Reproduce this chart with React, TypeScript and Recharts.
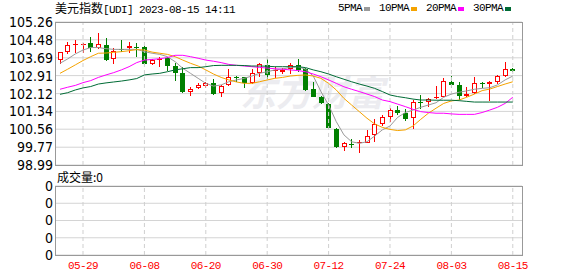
import React from "react";
import {
  ComposedChart,
  Bar,
  Line,
  XAxis,
  YAxis,
  CartesianGrid,
  ReferenceLine,
} from "recharts";

// trading days shown in the window
const dates = [
  "05-24", "05-25", "05-26", "05-29", "05-30", "05-31",
  "06-01", "06-02", "06-05", "06-06", "06-07", "06-08", "06-09", "06-12", "06-13", "06-14",
  "06-15", "06-16", "06-19", "06-20", "06-21", "06-22", "06-23", "06-26", "06-27", "06-28",
  "06-29", "06-30", "07-03", "07-04", "07-05", "07-06", "07-07", "07-10", "07-11", "07-12",
  "07-13", "07-14", "07-17", "07-18", "07-19", "07-20", "07-21", "07-24", "07-25", "07-26",
  "07-27", "07-28", "07-31", "08-01", "08-02", "08-03", "08-04", "08-07", "08-08", "08-09",
  "08-10", "08-11", "08-14", "08-15",
];

const open = [
  103.59, 103.96, 104.27, 104.28, 104.35, 104.11, 104.25, 103.62, 104.08, 104.11,
  104.16, 104.15, 103.40, 103.62, 103.67, 103.35, 103.01, 102.18, 102.35, 102.45,
  102.57, 102.13, 102.50, 102.83, 102.83, 102.57, 103.04, 103.37, 103.11, 103.05,
  103.19, 103.37, 103.19, 102.32, 101.99, 101.66, 100.57, 99.79, 99.91, 99.94,
  99.97, 100.31, 100.79, 101.08, 101.40, 101.26, 101.04, 101.77, 101.75, 101.91,
  101.99, 102.64, 102.50, 102.02, 102.13, 102.60, 102.53, 102.64, 102.91, 103.20,
];
const high = [
  103.95, 104.37, 104.47, 104.35, 104.59, 104.76, 104.54, 104.11, 104.47, 104.40,
  104.35, 104.21, 103.64, 103.74, 103.71, 103.45, 103.30, 102.42, 102.57, 102.64,
  102.75, 102.50, 103.18, 102.91, 102.86, 103.18, 103.48, 103.62, 103.30, 103.23,
  103.45, 103.64, 103.26, 102.64, 102.02, 101.69, 100.60, 99.98, 100.12, 100.09,
  100.52, 100.99, 101.18, 101.48, 101.58, 101.43, 101.84, 102.06, 101.94, 102.47,
  102.79, 102.89, 102.64, 102.40, 102.83, 102.64, 102.67, 102.94, 103.49, 103.26,
];
const low = [
  103.40, 103.87, 103.89, 103.89, 103.93, 104.08, 103.56, 103.43, 103.96, 103.89,
  103.71, 103.37, 103.37, 103.30, 103.13, 102.69, 102.13, 102.03, 102.31, 102.35,
  102.06, 101.96, 102.47, 102.64, 102.38, 102.54, 102.86, 102.75, 102.79, 102.98,
  102.98, 103.08, 102.25, 101.96, 101.67, 100.55, 99.74, 99.60, 99.72, 99.53,
  99.94, 100.01, 100.70, 100.89, 101.18, 100.93, 100.57, 101.43, 101.55, 101.87,
  101.96, 102.35, 101.84, 101.99, 102.10, 102.38, 101.81, 102.54, 102.86, 103.05,
];
const close = [
  103.93, 104.25, 104.30, 104.30, 104.11, 104.28, 103.59, 103.99, 104.05, 104.22,
  104.13, 103.40, 103.59, 103.65, 103.35, 103.04, 102.21, 102.32, 102.50, 102.57,
  102.10, 102.45, 102.86, 102.80, 102.57, 103.01, 103.40, 102.94, 103.14, 103.15,
  103.37, 103.16, 102.28, 101.99, 101.70, 100.60, 99.77, 99.94, 99.88, 99.98,
  100.26, 100.77, 101.11, 101.40, 101.29, 101.01, 101.74, 101.74, 101.87, 101.96,
  102.67, 102.50, 102.02, 102.10, 102.57, 102.53, 102.63, 102.89, 103.19, 103.11,
];

// moving averages as drawn (they start with history from before the window)
const ma5 = [
  103.45, 103.64, 103.86, 104.03, 104.14, 104.14, 104.09, 104.06, 104.06, 104.06,
  104.06, 103.96, 103.89, 103.84, 103.74, 103.52, 103.23, 103.01, 102.79, 102.57,
  102.45, 102.50, 102.64, 102.72, 102.79, 102.89, 103.01, 103.08, 103.16, 103.20,
  103.27, 103.30, 103.19, 102.89, 102.21, 101.62, 100.89, 100.31, 100.01, 99.94,
  100.01, 100.26, 100.53, 100.70, 101.08, 101.29, 101.40, 101.52, 101.62, 101.72,
  101.96, 102.10, 102.18, 102.24, 102.31, 102.35, 102.38, 102.50, 102.72, 102.89,
];
const ma10 = [
  103.01, 103.19, 103.38, 103.57, 103.74, 103.89, 103.90, 103.93, 103.96, 104.00,
  104.05, 104.03, 103.94, 103.89, 103.84, 103.74, 103.59, 103.45, 103.33, 103.16,
  102.98, 102.83, 102.72, 102.63, 102.57, 102.57, 102.64, 102.72, 102.79, 102.83,
  102.89, 102.92, 102.94, 102.89, 102.79, 102.57, 102.28, 101.91, 101.62, 101.33,
  101.04, 100.79, 100.64, 100.55, 100.50, 100.53, 100.70, 100.99, 101.26, 101.48,
  101.69, 101.80, 101.84, 101.96, 102.10, 102.25, 102.32, 102.43, 102.54, 102.64,
];
const ma20 = [
  102.31, 102.40, 102.48, 102.60, 102.69, 102.83, 102.94, 103.04, 103.16, 103.30,
  103.48, 103.59, 103.62, 103.65, 103.70, 103.80, 103.80, 103.74, 103.67, 103.59,
  103.54, 103.48, 103.40, 103.36, 103.33, 103.30, 103.27, 103.24, 103.21, 103.19,
  103.16, 103.13, 103.08, 102.98, 102.86, 102.72, 102.57, 102.42, 102.31, 102.21,
  102.10, 101.99, 101.84, 101.77, 101.66, 101.55, 101.43, 101.33, 101.29, 101.26,
  101.26, 101.23, 101.21, 101.21, 101.21, 101.29, 101.40, 101.52, 101.69, 101.96,
];
const ma30 = [
  102.09, 102.16, 102.28, 102.37, 102.43, 102.54, 102.59, 102.63, 102.67, 102.72,
  102.78, 102.94, 102.98, 103.01, 103.08, 103.16, 103.21, 103.26, 103.26, 103.30,
  103.35, 103.36, 103.36, 103.36, 103.35, 103.33, 103.33, 103.32, 103.30, 103.30,
  103.30, 103.30, 103.26, 103.16, 103.08, 102.98, 102.86, 102.75, 102.64, 102.54,
  102.45, 102.35, 102.21, 102.06, 101.99, 101.94, 101.88, 101.84, 101.84, 101.83,
  101.83, 101.83, 101.81, 101.78, 101.75, 101.75, 101.75, 101.75, 101.75, 101.75,
];

// 成交量 is 0 for every day of this index
const volume = [
  0, 0, 0, 0, 0, 0, 0, 0, 0, 0, 0, 0, 0, 0, 0, 0, 0, 0, 0, 0,
  0, 0, 0, 0, 0, 0, 0, 0, 0, 0, 0, 0, 0, 0, 0, 0, 0, 0, 0, 0,
  0, 0, 0, 0, 0, 0, 0, 0, 0, 0, 0, 0, 0, 0, 0, 0, 0, 0, 0, 0,
];

const priceTicks = [105.26, 104.48, 103.69, 102.91, 102.12, 101.34, 100.56, 99.77, 98.99];
const tickDates = ["05-29", "06-08", "06-20", "06-30", "07-12", "07-24", "08-03", "08-15"];

const maSeries = [
  { key: "ma5", name: "5PMA", color: "#9a9a9a" },
  { key: "ma10", name: "10PMA", color: "#f5a300" },
  { key: "ma20", name: "20PMA", color: "#ff00ff" },
  { key: "ma30", name: "30PMA", color: "#006b35" },
];

const rows = dates.map((date, i) => ({
  i,
  date,
  open: open[i],
  high: high[i],
  low: low[i],
  close: close[i],
  ma5: ma5[i],
  ma10: ma10[i],
  ma20: ma20[i],
  ma30: ma30[i],
  vol: volume[i],
}));

const tickIdx = tickDates.map((d) => dates.indexOf(d));
const volMax = Math.max(...volume);

const NARROW = '"Liberation Sans Narrow", "Arial Narrow", "DejaVu Sans Condensed", Arial, sans-serif';
const MONO = '"Liberation Mono", "DejaVu Sans Mono", monospace';
const CJK = '"Noto Sans CJK SC", sans-serif';
const X_DOMAIN = [-0.65, 60.2];
const RED = "#ff0000";
const GREEN = "#008000";

// 蜡烛：dataKey は [low, high] なので y/height がヒゲの範囲になる
function Candle(props: any) {
  const { x, y, width, height, payload } = props;
  if (x == null || !payload) return null;
  const { open: o, close: c, high: h, low: l } = payload;
  const cx = Math.round(x + width / 2);
  const span = h - l || 1;
  const py = (v: number) => y + ((h - v) / span) * height;
  const up = c >= o;
  const color = up ? RED : GREEN;
  const top = Math.round(py(Math.max(o, c)));
  const bot = Math.round(py(Math.min(o, c)));
  const thin = bot - top <= 1;
  return (
    <g>
      <line
        x1={cx + 0.5}
        x2={cx + 0.5}
        y1={Math.round(y)}
        y2={Math.round(y + height)}
        stroke={color}
        strokeWidth={1}
      />
      {thin ? (
        <rect x={cx - 2} y={top} width={5} height={1} fill={color} />
      ) : up ? (
        <rect
          x={cx - 1.5}
          y={top + 0.5}
          width={4}
          height={bot - top - 1}
          fill="#fff"
          stroke={color}
          strokeWidth={1}
        />
      ) : (
        <rect x={cx - 2} y={top} width={5} height={bot - top} fill={color} />
      )}
    </g>
  );
}

const frame = (top: number, height: number): React.CSSProperties => ({
  position: "absolute",
  left: 55,
  top,
  width: 468,
  height,
  boxSizing: "border-box",
  border: "1px solid #999",
  pointerEvents: "none",
});

export default function App() {
  return (
    <div
      style={{
        position: "fixed",
        left: 0,
        top: 0,
        width: 578,
        height: 276,
        background: "#fff",
        overflow: "hidden",
      }}
    >
      {/* watermark */}
      <div
        style={{
          position: "absolute",
          left: 240,
          top: 68,
          fontFamily: CJK,
          fontSize: 36,
          fontWeight: 700,
          fontStyle: "italic",
          color: "#ececf0",
          lineHeight: "44px",
        }}
      >
        东方财富
      </div>

      {/* title */}
      <div
        style={{
          position: "absolute",
          left: 55,
          top: 1,
          lineHeight: "14px",
          color: "#000",
          whiteSpace: "nowrap",
        }}
      >
        <span style={{ fontFamily: CJK, fontSize: 12 }}>美元指数</span>
        <span style={{ fontFamily: MONO, fontSize: 11, letterSpacing: -0.6 }}>
          [UDI] 2023-08-15 14:11
        </span>
      </div>

      {/* legend */}
      <div
        style={{
          position: "absolute",
          left: 338,
          top: 1,
          display: "flex",
          alignItems: "center",
          lineHeight: "14px",
          fontFamily: MONO,
          fontSize: 11,
          letterSpacing: -0.6,
          color: "#000",
        }}
      >
        {maSeries.map((s) => (
          <span key={s.key} style={{ display: "flex", alignItems: "center", marginRight: 9 }}>
            {s.name}
            <span
              style={{
                display: "inline-block",
                width: 6,
                height: 4,
                marginLeft: 2,
                marginTop: 2,
                background: s.color,
              }}
            />
          </span>
        ))}
      </div>

      {/* price panel */}
      <div style={{ position: "absolute", left: 0, top: 0 }}>
        <ComposedChart
          width={578}
          height={176}
          data={rows}
          margin={{ top: 22, right: 56, bottom: 11, left: 0 }}
        >
          <CartesianGrid vertical={false} stroke="#d4d4d4" />
          {tickIdx.map((i) => (
            <ReferenceLine key={i} x={i} stroke="#cfcfcf" strokeDasharray="4 3" />
          ))}
          <XAxis type="number" dataKey="i" domain={X_DOMAIN} hide />
          <YAxis
            domain={[98.99, 105.26]}
            ticks={priceTicks}
            interval={0}
            width={55}
            tickSize={0}
            tickMargin={2}
            axisLine={false}
            tick={{ fontSize: 14, fill: "#000", fontFamily: NARROW }}
            tickFormatter={(v) => Number(v).toFixed(2)}
          />
          <Bar
            dataKey={(d: any) => [d.low, d.high]}
            barSize={5}
            shape={<Candle />}
            isAnimationActive={false}
          />
          {maSeries.map((s) => (
            <Line
              key={s.key}
              type="linear"
              dataKey={s.key}
              stroke={s.color}
              strokeWidth={1}
              dot={false}
              activeDot={false}
              isAnimationActive={false}
            />
          ))}
        </ComposedChart>
      </div>
      <div style={frame(22, 144)} />

      {/* volume title */}
      <div
        style={{
          position: "absolute",
          left: 57,
          top: 170,
          lineHeight: "14px",
          fontFamily: CJK,
          fontSize: 12,
          color: "#000",
        }}
      >
        成交量:{volMax}
      </div>

      {/* volume panel */}
      <div style={{ position: "absolute", left: 0, top: 0 }}>
        <ComposedChart
          width={578}
          height={276}
          data={rows}
          margin={{ top: 186, right: 56, bottom: 0, left: 0 }}
        >
          <CartesianGrid vertical={false} stroke="#d4d4d4" />
          {tickIdx.map((i) => (
            <ReferenceLine key={i} x={i} stroke="#cfcfcf" strokeDasharray="4 3" />
          ))}
          <XAxis
            type="number"
            dataKey="i"
            domain={X_DOMAIN}
            ticks={tickIdx}
            interval={0}
            height={21}
            tickSize={0}
            tickMargin={6}
            axisLine={false}
            tick={{ fontSize: 11, fill: RED, fontFamily: MONO, letterSpacing: -0.6 }}
            tickFormatter={(i) => dates[i]}
          />
          <YAxis
            domain={[0, 1]}
            ticks={[0, 0.25, 0.5, 0.75, 1]}
            interval={0}
            width={55}
            tickSize={0}
            tickMargin={2}
            axisLine={false}
            tick={{ fontSize: 14, fill: "#000", fontFamily: NARROW }}
            tickFormatter={(v) => String(volMax * v)}
          />
          <Bar dataKey="vol" barSize={5} fill={GREEN} isAnimationActive={false} />
        </ComposedChart>
      </div>
      <div style={frame(186, 70)} />
    </div>
  );
}
